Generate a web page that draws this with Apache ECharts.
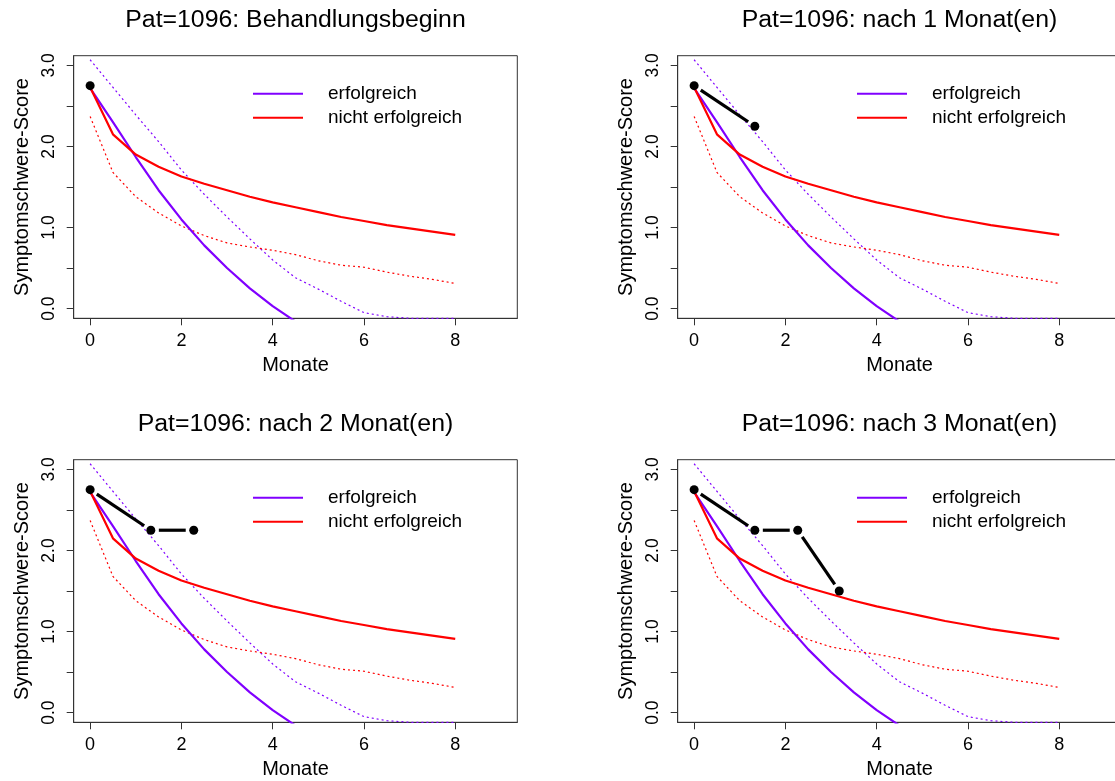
<!DOCTYPE html>
<html>
<head>
<meta charset="utf-8">
<script src="https://cdn.jsdelivr.net/npm/echarts@6/dist/echarts.min.js"></script>
<style>
html,body{margin:0;padding:0;background:#fff;}
#chart{width:1115px;height:781px;}
</style>
</head>
<body>
<div id="chart"></div>
<script>
// ---- data ----
const months = [0, 0.5, 1, 1.5, 2, 2.5, 3, 3.5, 4, 4.5, 5, 5.5, 6, 6.5, 7, 7.5, 8];
// solid reference curves
const erfolgreich      = [2.72, 2.30, 1.87, 1.46, 1.10, 0.78, 0.50, 0.25, 0.03, -0.16, null, null, null, null, null, null, null];
const nichtErfolgreich = [2.73, 2.15, 1.90, 1.75, 1.63, 1.54, 1.46, 1.38, 1.31, 1.25, 1.19, 1.13, 1.08, 1.03, 0.99, 0.95, 0.91];
// dotted band curves
const erfolgreichBand      = [3.07, 2.73, 2.39, 2.06, 1.71, 1.41, 1.13, 0.86, 0.60, 0.38, 0.24, 0.09, -0.05, -0.10, -0.12, -0.12, -0.12];
const nichtErfolgreichBand = [2.37, 1.68, 1.38, 1.18, 1.02, 0.90, 0.81, 0.76, 0.72, 0.665, 0.59, 0.535, 0.51, 0.45, 0.40, 0.36, 0.31];
// patient visits
const patMonths = [0, 1.33, 2.27, 3.18];
const patScore  = [2.75, 2.25, 2.25, 1.50];
const visitsShown = [1, 2, 3, 4];
const titles = [
  'Pat=1096: Behandlungsbeginn',
  'Pat=1096: nach 1 Monat(en)',
  'Pat=1096: nach 2 Monat(en)',
  'Pat=1096: nach 3 Monat(en)'
];
const xTicks = [0, 2, 4, 6, 8];
const yTicks = [0, 0.5, 1, 1.5, 2, 2.5, 3];
const yLabels = [0, 1, 2, 3];

// ---- layout ----
const FONT = "'Liberation Sans', Arial, Helvetica, sans-serif";
const PURPLE = '#8000ff';
const RED = '#ff0000';
const gridW = 443.6, gridH = 262.6;
const lefts = [73.7, 677.7, 73.7, 677.7];
const tops = [55.7, 55.7, 459.7, 459.7];

function pairs(xs, ys) {
  const out = [];
  for (let i = 0; i < xs.length; i++) if (ys[i] !== null) out.push([xs[i], ys[i]]);
  return out;
}

const grids = [], xAxes = [], yAxes = [], series = [], legends = [], graphics = [];
for (let k = 0; k < 4; k++) {
  grids.push({left: lefts[k], top: tops[k], width: gridW, height: gridH,
    show: true, borderColor: '#333', borderWidth: 1, backgroundColor: 'transparent',
    containLabel: false, outerBoundsMode: 'none'});
  xAxes.push({type: 'value', gridIndex: k, min: -0.36, max: 9.36, position: 'bottom',
    name: 'Monate', nameLocation: 'middle', nameGap: 37,
    nameTextStyle: {fontFamily: FONT, fontSize: 20, color: '#000'},
    axisLine: {show: true, onZero: false, lineStyle: {color: '#333', width: 1}}, splitLine: {show: false},
    axisTick: {show: true, inside: false, length: 7, customValues: xTicks, lineStyle: {color: '#333'}},
    axisLabel: {customValues: xTicks, margin: 14, fontFamily: FONT, fontSize: 18, color: '#000'}
  });
  yAxes.push({type: 'value', gridIndex: k, min: -0.12, max: 3.12, position: 'left',
    name: 'Symptomschwere-Score', nameLocation: 'middle', nameGap: 41, nameRotate: 90,
    nameTextStyle: {fontFamily: FONT, fontSize: 20, color: '#000'},
    axisLine: {show: true, onZero: false, lineStyle: {color: '#333', width: 1}}, splitLine: {show: false},
    axisTick: {show: true, inside: false, length: 7, customValues: yTicks, lineStyle: {color: '#333'}},
    axisLabel: {customValues: yLabels, rotate: 90, margin: 16, fontFamily: FONT, fontSize: 17.5, color: '#000',
      formatter: v => Number(v).toFixed(1)}
  });
  graphics.push({type: 'text', x: lefts[k] + gridW / 2, y: tops[k] - 35, scaleX: 1.08, originX: 0, originY: 0,
    style: {text: titles[k], font: '23px ' + FONT, fill: '#000', textAlign: 'center', textVerticalAlign: 'middle'}});

  const common = {xAxisIndex: k, yAxisIndex: k, showSymbol: false, symbol: 'none', silent: true, animation: false};
  series.push(Object.assign({type: 'line', name: 'erfolgreich band', data: pairs(months, erfolgreichBand),
    lineStyle: {color: PURPLE, width: 1.2, type: [2, 3]}, color: PURPLE, z: 2}, common));
  series.push(Object.assign({type: 'line', name: 'nicht erfolgreich band', data: pairs(months, nichtErfolgreichBand),
    lineStyle: {color: RED, width: 1.2, type: [2, 3]}, color: RED, z: 2}, common));
  series.push(Object.assign({type: 'line', name: 'erfolgreich', data: pairs(months, erfolgreich),
    lineStyle: {color: PURPLE, width: 2.2}, color: PURPLE, z: 3}, common));
  series.push(Object.assign({type: 'line', name: 'nicht erfolgreich', data: pairs(months, nichtErfolgreich),
    lineStyle: {color: RED, width: 2.2}, color: RED, z: 4}, common));

  const n = visitsShown[k];
  const segs = [];
  for (let i = 0; i + 1 < n; i++) segs.push([patMonths[i], patScore[i], patMonths[i + 1], patScore[i + 1]]);
  if (segs.length) {
    series.push({type: 'custom', name: 'Patient Verlauf', xAxisIndex: k, yAxisIndex: k, silent: true, animation: false,
      encode: {x: [0, 2], y: [1, 3]}, data: segs, z: 5,
      renderItem: function (params, api) {
        const p0 = api.coord([api.value(0), api.value(1)]);
        const p1 = api.coord([api.value(2), api.value(3)]);
        const dx = p1[0] - p0[0], dy = p1[1] - p0[1];
        const len = Math.sqrt(dx * dx + dy * dy);
        const gap = 8;
        const ux = dx / len, uy = dy / len;
        return {type: 'line',
          shape: {x1: p0[0] + ux * gap, y1: p0[1] + uy * gap, x2: p1[0] - ux * gap, y2: p1[1] - uy * gap},
          style: {stroke: '#000', lineWidth: 3.2}};
      }
    });
  }
  series.push({type: 'scatter', name: 'Patient', xAxisIndex: k, yAxisIndex: k, silent: true, animation: false,
    data: pairs(patMonths.slice(0, n), patScore.slice(0, n)), symbol: 'circle', symbolSize: 9,
    itemStyle: {color: '#000', borderWidth: 0, opacity: 1}, z: 6});

  legends.push({show: true, orient: 'vertical', left: lefts[k] + 179.3, top: tops[k] + 28.5, padding: 0,
    itemWidth: 50, itemHeight: 2, itemGap: 5, selectedMode: false,
    textStyle: {fontFamily: FONT, fontSize: 19, color: '#000', lineHeight: 18, padding: [0, 0, 0, 20]},
    data: [{name: 'erfolgreich', icon: 'rect', itemStyle: {color: PURPLE}},
           {name: 'nicht erfolgreich', icon: 'rect', itemStyle: {color: RED}}]});
}

const chart = echarts.init(document.getElementById('chart'), null, {renderer: 'canvas'});
chart.setOption({
  backgroundColor: '#fff',
  animation: false,
  textStyle: {fontFamily: FONT},
  grid: grids, xAxis: xAxes, yAxis: yAxes, series: series, legend: legends, graphic: graphics
});
</script>
</body>
</html>
